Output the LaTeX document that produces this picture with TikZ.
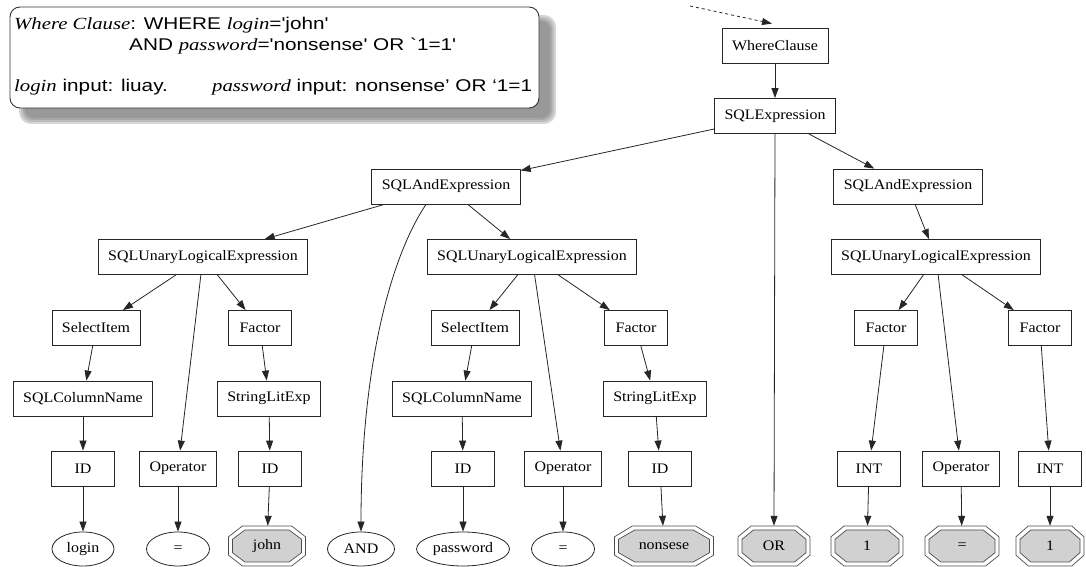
\documentclass[tikz,border=0pt]{standalone}
\usepackage{fontspec}
\setmainfont{Liberation Serif}
\newfontfamily\gvfont[FakeStretch=1.1]{Liberation Serif}
\newfontfamily\bxserif[FakeStretch=1.22]{Liberation Serif}
\newfontfamily\bxsans[FakeStretch=1.22]{Liberation Sans}
\usetikzlibrary{arrows.meta,shapes.geometric}
\tikzset{
  gvtext/.style={font=\gvfont\fontsize{14.5}{17}\selectfont},
  gvbox/.style={gvtext, draw=black!85, line width=0.8pt, rectangle, minimum height=35, minimum width=63, inner xsep=10, inner ysep=0},
  gvell/.style={gvtext, draw=black!85, line width=0.8pt, ellipse, minimum height=34, inner sep=0},
  gvedge/.style={draw=black!85, line width=0.8pt, -{Triangle[length=10pt,width=7pt]}},
  octline/.style={draw=black!70, line width=0.7pt},
  octfill/.style={draw=black!70, line width=0.7pt, fill=black!18},
  boxtext/.style={anchor=base west, inner sep=0, font=\bxsans\fontsize{17}{20}\selectfont},
}
\newcommand{\dblocta}[6]{%
  \pgfmathsetmacro\octA{#4/2}\pgfmathsetmacro\octB{#5/2}%
  \pgfmathsetmacro\octCX{0.18*#4}\pgfmathsetmacro\octCY{0.27*#5}%
  \pgfmathsetmacro\octa{#4/2-4}\pgfmathsetmacro\octb{#5/2-4}%
  \draw[octline,shift={(#2,#3)}] ({-\octA+\octCX},{\octB}) -- ({\octA-\octCX},{\octB}) -- ({\octA},{\octB-\octCY}) -- ({\octA},{-\octB+\octCY}) -- ({\octA-\octCX},{-\octB}) -- ({-\octA+\octCX},{-\octB}) -- ({-\octA},{-\octB+\octCY}) -- ({-\octA},{\octB-\octCY}) -- cycle;
  \draw[octfill,shift={(#2,#3)}] ({-\octa+\octCX-1.5},{\octb}) -- ({\octa-\octCX+1.5},{\octb}) -- ({\octa},{\octb-\octCY+1.5}) -- ({\octa},{-\octb+\octCY-1.5}) -- ({\octa-\octCX+1.5},{-\octb}) -- ({-\octa+\octCX-1.5},{-\octb}) -- ({-\octa},{-\octb+\octCY-1.5}) -- ({-\octa},{\octb-\octCY+1.5}) -- cycle;
  \node[gvtext, inner sep=0, minimum width=#4, minimum height=#5] (#1) at (#2,#3) {#6};
}
\begin{document}
\begin{tikzpicture}[x=1pt,y=1pt]
\useasboundingbox (0,0) rectangle (1086,567);
% info box with shadow
\fill[black!16, rounded corners=12] (19,443) rectangle (556,552);
\fill[black!26, rounded corners=11] (21,445) rectangle (554,550);
\fill[black!34, rounded corners=10] (23,447) rectangle (552,548);
\fill[black!40, rounded corners=9] (25,449) rectangle (550,546);
\draw[black!80, line width=0.9pt, fill=white, rounded corners=10] (10,459) rectangle (539,560);
\node[boxtext] (t1) at (14,537) {{\bxserif\itshape Where Clause}: WHERE {\bxserif\itshape login}='john'};
\node[boxtext] (t2) at (129,516) {AND {\bxserif\itshape password}='nonsense' OR `1=1'};
\node[boxtext] (t3) at (14,475) {{\bxserif\itshape login} input: liuay.};
\node[boxtext] (t4) at (212,475) {{\bxserif\itshape password} input: nonsense’ OR ‘1=1};
% tree nodes
\node[gvbox] (wc) at (775,521.5) {WhereClause};
\node[gvbox] (sqle) at (775,451) {SQLExpression};
\node[gvbox] (andL) at (446,380.5) {SQLAndExpression};
\node[gvbox] (andR) at (908,380.5) {SQLAndExpression};
\node[gvbox] (unL) at (203,310) {SQLUnaryLogicalExpression};
\node[gvbox] (unM) at (532,310) {SQLUnaryLogicalExpression};
\node[gvbox] (unR) at (936,310) {SQLUnaryLogicalExpression};
\node[gvbox] (selL) at (96,239) {SelectItem};
\node[gvbox] (facL) at (260,239) {Factor};
\node[gvbox] (selM) at (475,239) {SelectItem};
\node[gvbox] (facM) at (636,239) {Factor};
\node[gvbox] (facR1) at (886,239) {Factor};
\node[gvbox] (facR2) at (1040,239) {Factor};
\node[gvbox] (colL) at (83,168.5) {SQLColumnName};
\node[gvbox] (strL) at (269,168.5) {StringLitExp};
\node[gvbox] (colM) at (462,168.5) {SQLColumnName};
\node[gvbox] (strM) at (655,168.5) {StringLitExp};
\node[gvbox] (idL) at (83,98.5) {ID};
\node[gvbox] (opL) at (178,98.5) {Operator};
\node[gvbox] (idL2) at (270,98.5) {ID};
\node[gvbox] (idM) at (463,98.5) {ID};
\node[gvbox] (opM) at (563,98.5) {Operator};
\node[gvbox] (idM2) at (660,98.5) {ID};
\node[gvbox] (intR1) at (869,98.5) {INT};
\node[gvbox] (opR) at (961,98.5) {Operator};
\node[gvbox] (intR2) at (1050,98.5) {INT};
% leaves
\node[gvell, minimum width=62] (login) at (83,18) {login};
\node[gvell, minimum width=63] (eqL) at (178,18) {=};
\dblocta{john}{267}{21}{77}{40}{john}
\node[gvell, minimum width=67] (andw) at (361,18) {AND};
\node[gvell, minimum width=93] (pwd) at (463,18) {password};
\node[gvell, minimum width=63] (eqM) at (563,18) {=};
\dblocta{nons}{664}{21}{99}{40}{nonsese}
\dblocta{orw}{774}{21}{72}{40}{OR}
\dblocta{oneA}{867}{21}{72}{40}{1}
\dblocta{eqR}{962}{21}{74}{40}{=}
\dblocta{oneB}{1050}{21}{68}{40}{1}
% edges
\coordinate (dstart) at (690,561);
\draw[gvedge, dashed] (dstart) -- ([shift={(-3,4)}]wc.north);
\draw[gvedge] (wc) -- (sqle);
\draw[gvedge] (sqle) -- (andL);
\draw[gvedge] (sqle.south) -- (orw.north);
\draw[gvedge] (sqle) -- (andR);
\draw[gvedge] (andL) -- (unL);
\draw[gvedge] ([xshift=-20]andL.south) .. controls +(-40,-60) and +(0,150) .. (andw.north);
\draw[gvedge] (andL) -- (unM);
\draw[gvedge] (andR) -- (unR);
\draw[gvedge] (unL) -- (selL);
\draw[gvedge] (unL) -- (opL);
\draw[gvedge] (unL) -- (facL);
\draw[gvedge] (selL) -- (colL);
\draw[gvedge] (facL) -- (strL);
\draw[gvedge] (colL) -- (idL);
\draw[gvedge] (strL) -- (idL2);
\draw[gvedge] (idL) -- (login);
\draw[gvedge] (opL) -- (eqL);
\draw[gvedge] (idL2) -- (john);
\draw[gvedge] (unM) -- (selM);
\draw[gvedge] (unM) -- (opM);
\draw[gvedge] (unM) -- (facM);
\draw[gvedge] (selM) -- (colM);
\draw[gvedge] (facM) -- (strM);
\draw[gvedge] (colM) -- (idM);
\draw[gvedge] (strM) -- (idM2);
\draw[gvedge] (idM) -- (pwd);
\draw[gvedge] (opM) -- (eqM);
\draw[gvedge] (idM2) -- (nons);
\draw[gvedge] (unR) -- (facR1);
\draw[gvedge] (unR) -- (opR);
\draw[gvedge] (unR) -- (facR2);
\draw[gvedge] (facR1) -- (intR1);
\draw[gvedge] (facR2) -- (intR2);
\draw[gvedge] (intR1) -- (oneA);
\draw[gvedge] (opR) -- (eqR);
\draw[gvedge] (intR2) -- (oneB);
\end{tikzpicture}
\end{document}
